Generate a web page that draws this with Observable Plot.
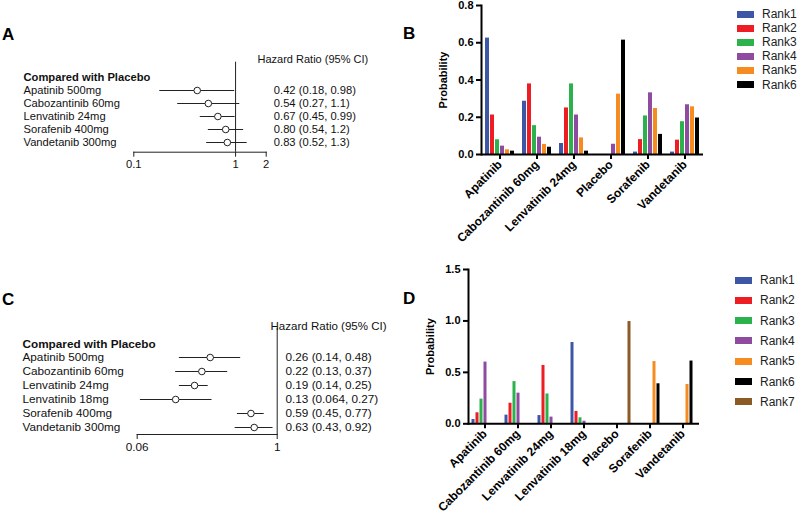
<!DOCTYPE html>
<html><head><meta charset="utf-8">
<script src="https://cdn.jsdelivr.net/npm/d3@7"></script>
<script src="https://cdn.jsdelivr.net/npm/@observablehq/plot@0.6"></script>
<style>
body{margin:0;background:#fff;font-family:"Liberation Sans",Arial,sans-serif;}
#root{position:relative;width:800px;height:518px;overflow:hidden;background:#fff;}
.panel{position:absolute;}
.letter{position:absolute;font-weight:bold;font-size:17px;line-height:17px;color:#000;}
.legend{position:absolute;font-size:12px;color:#222;}
.legend .row{position:absolute;left:0;display:flex;align-items:center;height:12px;white-space:nowrap;}
.legend .sw{width:17px;height:7px;margin-right:8px;}
</style></head><body><div id="root"></div>
<script>
// ---------- Panel A (forest plot) ----------
const drugsA = ["Apatinib 500mg","Cabozantinib 60mg","Lenvatinib 24mg","Sorafenib 400mg","Vandetanib 300mg"];
const hrA = [0.42,0.54,0.67,0.80,0.83];
const loA = [0.18,0.27,0.45,0.54,0.52];
const hiA = [0.98,1.1,0.99,1.2,1.3];
const ciTextA = ["0.42 (0.18, 0.98)","0.54 (0.27, 1.1)","0.67 (0.45, 0.99)","0.80 (0.54, 1.2)","0.83 (0.52, 1.3)"];
const ticksA = [0.1,1,2];

// ---------- Panel C (forest plot) ----------
const drugsC = ["Apatinib 500mg","Cabozantinib 60mg","Lenvatinib 24mg","Lenvatinib 18mg","Sorafenib 400mg","Vandetanib 300mg"];
const hrC = [0.26,0.22,0.19,0.13,0.59,0.63];
const loC = [0.14,0.13,0.14,0.064,0.45,0.43];
const hiC = [0.48,0.37,0.25,0.27,0.77,0.92];
const ciTextC = ["0.26 (0.14, 0.48)","0.22 (0.13, 0.37)","0.19 (0.14, 0.25)","0.13 (0.064, 0.27)","0.59 (0.45, 0.77)","0.63 (0.43, 0.92)"];
const ticksC = [0.06,1];

const headerText = "Compared with Placebo";
const hrTitle = "Hazard Ratio (95% CI)";

// ---------- Panel B (rank probabilities) ----------
const catsB = ["Apatinib","Cabozantinib 60mg","Lenvatinib 24mg","Placebo","Sorafenib","Vandetanib"];
const ranksB = ["Rank1","Rank2","Rank3","Rank4","Rank5","Rank6"];
const rank1B = [0.625,0.286,0.059,0,0.013,0.013];
const rank2B = [0.212,0.379,0.250,0,0.080,0.077];
const rank3B = [0.079,0.155,0.379,0,0.207,0.176];
const rank4B = [0.045,0.093,0.212,0.055,0.331,0.267];
const rank5B = [0.025,0.054,0.089,0.324,0.247,0.256];
const rank6B = [0.018,0.039,0.018,0.614,0.108,0.196];
const ticksB = [0,0.2,0.4,0.6,0.8];

// ---------- Panel D (rank probabilities) ----------
const catsD = ["Apatinib","Cabozantinib 60mg","Lenvatinib 24mg","Lenvatinib 18mg","Placebo","Sorafenib","Vandetanib"];
const ranksD = ["Rank1","Rank2","Rank3","Rank4","Rank5","Rank6","Rank7"];
const rank1D = [0.042,0.084,0.080,0.790,0,0,0];
const rank2D = [0.107,0.200,0.567,0.120,0,0,0];
const rank3D = [0.240,0.410,0.290,0.058,0,0,0];
const rank4D = [0.600,0.298,0.065,0.025,0,0,0];
const rank5D = [0,0,0,0,0,0.605,0.382];
const rank6D = [0,0,0,0,0,0.389,0.610];
const rank7D = [0,0,0,0,0.994,0,0];
const ticksD = [0,0.5,1.0,1.5];

const rankColors = ["#3D56A6","#EE1D23","#2BB24C","#8E4BA0","#F68B1F","#000000","#8C5A25"];

const FONT = "'Liberation Sans', Arial, sans-serif";
const root = document.getElementById("root");

function place(node, left, top) {
  const d = document.createElement("div");
  d.className = "panel";
  d.style.left = left + "px";
  d.style.top = top + "px";
  d.appendChild(node);
  root.appendChild(d);
}
function letter(txt, left, top) {
  const d = document.createElement("div");
  d.className = "letter";
  d.textContent = txt;
  d.style.left = left + "px";
  d.style.top = top + "px";
  root.appendChild(d);
}
function legend(ranks, colors, left, top, gap) {
  const L = document.createElement("div");
  L.className = "legend";
  L.style.left = left + "px";
  L.style.top = top + "px";
  ranks.forEach((r, i) => {
    const row = document.createElement("div");
    row.className = "row";
    row.style.top = (i * gap) + "px";
    const sw = document.createElement("div");
    sw.className = "sw";
    sw.style.background = colors[i];
    const t = document.createElement("span");
    t.textContent = r;
    row.appendChild(sw); row.appendChild(t);
    L.appendChild(row);
  });
  root.appendChild(L);
}

function forest({drugs, hr, lo, hi, ci, ticks, width, height, mL, mR, mT, mB, insetTop, insetBottom, fontSize, labelDx, headerDy, titleDx, titleDy, valueDx}) {
  const rows = drugs.map((d, i) => ({drug: d, hr: hr[i], lo: lo[i], hi: hi[i], ci: ci[i]}));
  return Plot.plot({
    width, height,
    marginLeft: mL, marginRight: mR, marginTop: mT, marginBottom: mB,
    style: {fontFamily: FONT, fontSize: fontSize + "px", color: "#111", background: "transparent", overflow: "visible"},
    x: {type: "log", domain: [ticks[0], ticks[ticks.length - 1]]},
    y: {type: "point", domain: drugs, padding: 0, insetTop, insetBottom, axis: null},
    marks: [
      Plot.ruleX([1], {stroke: "#222", strokeWidth: 1}),
      Plot.frame({anchor: "bottom", stroke: "#222", strokeWidth: 1}),
      Plot.ruleY(rows, {y: "drug", x1: "lo", x2: "hi", stroke: "#222", strokeWidth: 1}),
      Plot.dot(rows, {x: "hr", y: "drug", r: 3.3, fill: "white", stroke: "#222", strokeWidth: 1}),
      Plot.text(rows, {y: "drug", text: "drug", frameAnchor: "left", textAnchor: "start", dx: labelDx, fill: "#111", fontSize}),
      Plot.text(rows, {y: "drug", text: "ci", frameAnchor: "right", textAnchor: "start", dx: valueDx, fill: "#111", fontSize}),
      Plot.text([headerText], {frameAnchor: "top-left", textAnchor: "start", dx: labelDx, dy: headerDy, fontWeight: "bold", fill: "#111", fontSize}),
      Plot.text([hrTitle], {frameAnchor: "top-right", textAnchor: "start", dx: titleDx, dy: titleDy, fill: "#111", fontSize: fontSize - 0.2}),
      Plot.axisX({ticks, tickFormat: d => String(d), tickSize: 5, tickPadding: 3, label: null, stroke: "#222", fill: "#111", fontSize})
    ]
  });
}

function ranks({cats, ranks, series, yTicks, yMax, width, height, mL, mR, mT, mB, xPadIn, xPadOut, labelOffset}) {
  const table = [];
  ranks.forEach((r, j) => cats.forEach((c, i) => table.push({drug: c, rank: r, value: series[j][i]})));
  return Plot.plot({
    width, height,
    marginLeft: mL, marginRight: mR, marginTop: mT, marginBottom: mB,
    style: {fontFamily: FONT, fontSize: "11px", color: "#000", background: "transparent", overflow: "visible"},
    fx: {domain: cats, padding: 0, label: null},
    x: {domain: ranks, paddingInner: xPadIn, paddingOuter: xPadOut, axis: null},
    y: {domain: [0, yMax], label: null},
    color: {domain: ranks, range: rankColors.slice(0, ranks.length)},
    marks: [
      Plot.barY(table, {fx: "drug", x: "rank", y: "value", fill: "rank"}),
      Plot.ruleY([0], {stroke: "#000", strokeWidth: 2}),
      Plot.frame({anchor: "left", facetAnchor: "left", stroke: "#000", strokeWidth: 2}),
      Plot.axisY({ticks: yTicks, tickFormat: ".1f", tickSize: 5, tickPadding: 3, strokeWidth: 2, fontWeight: "bold", fontSize: 11,
                  label: "Probability", labelAnchor: "center", labelArrow: "none", labelOffset}),
      Plot.axisFx({anchor: "bottom", tickRotate: -45, tickSize: 5, tickPadding: 3, strokeWidth: 2, fontWeight: "bold", fontSize: 12, label: null})
    ]
  });
}

// Panel A
place(forest({drugs: drugsA, hr: hrA, lo: loA, hi: hiA, ci: ciTextA, ticks: ticksA,
  width: 420, height: 130, mL: 133.3, mR: 154.3, mT: 16.7, mB: 23.3, insetTop: 27.6, insetBottom: 8.4,
  fontSize: 11.2, labelDx: -110.3, headerDy: 11, titleDx: -8.7, titleDy: -6.7, valueDx: 7.6}), 0, 45);

// Panel C
place(forest({drugs: drugsC, hr: hrC, lo: loC, hi: hiC, ci: ciTextC, ticks: ticksC,
  width: 420, height: 150, mL: 136.7, mR: 143.3, mT: 23, mB: 21, insetTop: 28.7, insetBottom: 6.7,
  fontSize: 11.75, labelDx: -114.7, headerDy: 11, titleDx: -6.7, titleDy: -6.3, valueDx: 8.3}), 0, 305);

// Panel B
place(ranks({cats: catsB, ranks: ranksB, series: [rank1B, rank2B, rank3B, rank4B, rank5B, rank6B], yTicks: ticksB, yMax: 0.8,
  width: 290, height: 250, mL: 58, mR: 5, mT: 5, mB: 96, xPadIn: 0.25, xPadOut: 0.69, labelOffset: 42}), 420, 0);

// Panel D
place(ranks({cats: catsD, ranks: ranksD, series: [rank1D, rank2D, rank3D, rank4D, rank5D, rank6D, rank7D], yTicks: ticksD, yMax: 1.5,
  width: 290, height: 268, mL: 46.5, mR: 10, mT: 19, mB: 94.7, xPadIn: 0.3, xPadOut: 0.53, labelOffset: 42}), 420, 250);

letter("A", 2, 26);
letter("B", 403, 25);
letter("C", 2, 291);
letter("D", 403, 290);

legend(ranksB, rankColors, 737, 8, 14.1);
legend(ranksD, rankColors, 735, 274, 20.3);
</script>
</body></html>
